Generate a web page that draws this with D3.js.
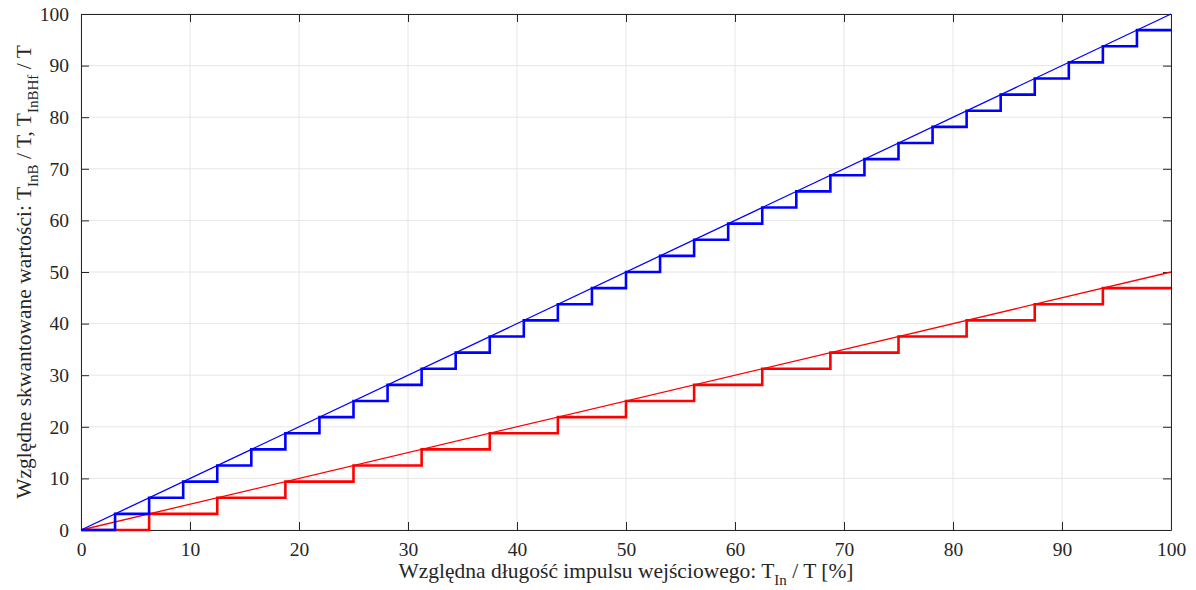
<!DOCTYPE html>
<html>
<head>
<meta charset="utf-8">
<script src="https://cdn.jsdelivr.net/npm/d3@7"></script>
<style>
  html, body { margin: 0; padding: 0; background: #fff; }
  svg text { font-family: "Liberation Serif", "DejaVu Serif", serif; fill: #262626; }
</style>
</head>
<body>
<div id="chart"></div>
<script>
const xTicks = [0, 10, 20, 30, 40, 50, 60, 70, 80, 90, 100]
const yTicks = [0, 10, 20, 30, 40, 50, 60, 70, 80, 90, 100]

// blue: step edges (x) and the quantized level after each edge
const blueEdges = [0, 3.125, 6.25, 9.375, 12.5, 15.625, 18.75, 21.875, 25, 28.125, 31.25, 34.375,
    37.5, 40.625, 43.75, 46.875, 50, 53.125, 56.25, 59.375, 62.5, 65.625, 68.75, 71.875,
    75, 78.125, 81.25, 84.375, 87.5, 90.625, 93.75, 96.875, 100]
const blueLevels = [0, 3.125, 6.25, 9.375, 12.5, 15.625, 18.75, 21.875, 25, 28.125, 31.25, 34.375,
    37.5, 40.625, 43.75, 46.875, 50, 53.125, 56.25, 59.375, 62.5, 65.625, 68.75, 71.875,
    75, 78.125, 81.25, 84.375, 87.5, 90.625, 93.75, 96.875, 96.875]

// red
const redEdges = [0, 6.25, 12.5, 18.75, 25, 31.25, 37.5, 43.75, 50, 56.25, 62.5, 68.75,
    75, 81.25, 87.5, 93.75, 100]
const redLevels = [0, 3.125, 6.25, 9.375, 12.5, 15.625, 18.75, 21.875, 25, 28.125, 31.25, 34.375,
    37.5, 40.625, 43.75, 46.875, 46.875]

// ideal (unquantized) lines
const blueIdeal = [[0, 0], [100, 100]]
const redIdeal = [[0, 0], [100, 50]]

const W = 1196, H = 590
const margin = { top: 14, right: 25, bottom: 60, left: 81 },
    width = W - margin.left - margin.right,
    height = H - margin.top - margin.bottom

const svg = d3.select("#chart").append("svg")
    .attr("width", W)
    .attr("height", H)

const g = svg.append("g")
    .attr("transform", "translate(" + margin.left + "," + margin.top + ")")

const x = d3.scaleLinear().domain([0, 100]).range([0, width])
const y = d3.scaleLinear().domain([0, 100]).range([height, 0])

// grid
g.append("g").selectAll("line").data(xTicks).join("line")
    .attr("x1", d => x(d)).attr("x2", d => x(d))
    .attr("y1", 0).attr("y2", height)
    .attr("stroke", "#e6e6e6").attr("stroke-width", 1)
g.append("g").selectAll("line").data(yTicks).join("line")
    .attr("x1", 0).attr("x2", width)
    .attr("y1", d => y(d)).attr("y2", d => y(d))
    .attr("stroke", "#e6e6e6").attr("stroke-width", 1)

// axes, ticks pointing inwards
const tickLen = 8
const xAxis = g.append("g")
    .attr("transform", "translate(0," + height + ")")
    .call(d3.axisBottom(x).tickValues(xTicks).tickSizeInner(-tickLen).tickSizeOuter(0).tickPadding(12))
const yAxis = g.append("g")
    .call(d3.axisLeft(y).tickValues(yTicks).tickSizeInner(-tickLen).tickSizeOuter(0).tickPadding(12))
const xTop = g.append("g")
    .call(d3.axisTop(x).tickValues(xTicks).tickSizeInner(-tickLen).tickSizeOuter(0).tickFormat(""))
const yRight = g.append("g")
    .attr("transform", "translate(" + width + ",0)")
    .call(d3.axisRight(y).tickValues(yTicks).tickSizeInner(-tickLen).tickSizeOuter(0).tickFormat(""))

for (const a of [xAxis, yAxis, xTop, yRight]) {
    a.attr("font-family", null)
    a.select(".domain").attr("stroke", "#262626").attr("stroke-width", 1)
    a.selectAll(".tick line").attr("stroke", "#262626")
    a.selectAll(".tick text").attr("font-size", 19.5).attr("fill", "#262626")
}
xAxis.selectAll(".tick text").attr("dy", "0.71em")

// lines
const line = d3.line().x(d => x(d[0])).y(d => y(d[1]))
const step = d3.line().x(d => x(d[0])).y(d => y(d[1])).curve(d3.curveStepAfter)

g.append("path").datum(redIdeal)
    .attr("fill", "none").attr("stroke", "#ff0000").attr("stroke-width", 1.3)
    .attr("d", line)
g.append("path").datum(redEdges.map((e, i) => [e, redLevels[i]]))
    .attr("fill", "none").attr("stroke", "#ff0000").attr("stroke-width", 2.6)
    .attr("d", step)
g.append("path").datum(blueIdeal)
    .attr("fill", "none").attr("stroke", "#0000ff").attr("stroke-width", 1.3)
    .attr("d", line)
g.append("path").datum(blueEdges.map((e, i) => [e, blueLevels[i]]))
    .attr("fill", "none").attr("stroke", "#0000ff").attr("stroke-width", 2.6)
    .attr("d", step)

// axis labels
const xl = svg.append("text")
    .attr("x", margin.left + width / 2)
    .attr("y", 578)
    .attr("text-anchor", "middle")
    .attr("font-size", 21.5)
xl.append("tspan").text("Względna długość impulsu wejściowego: T")
xl.append("tspan").attr("font-size", 15).attr("dy", 7).text("In")
xl.append("tspan").attr("dy", -7).text(" / T [%]")

const yl = svg.append("text")
    .attr("transform", "translate(31," + (margin.top + height / 2) + ") rotate(-90)")
    .attr("text-anchor", "middle")
    .attr("font-size", 21.5)
yl.append("tspan").text("Względne skwantowane wartości: T")
yl.append("tspan").attr("font-size", 15).attr("dy", 7).text("InB")
yl.append("tspan").attr("dy", -7).text(" / T, T")
yl.append("tspan").attr("font-size", 15).attr("dy", 7).text("InBHf")
yl.append("tspan").attr("dy", -7).text(" / T")
</script>
</body>
</html>
